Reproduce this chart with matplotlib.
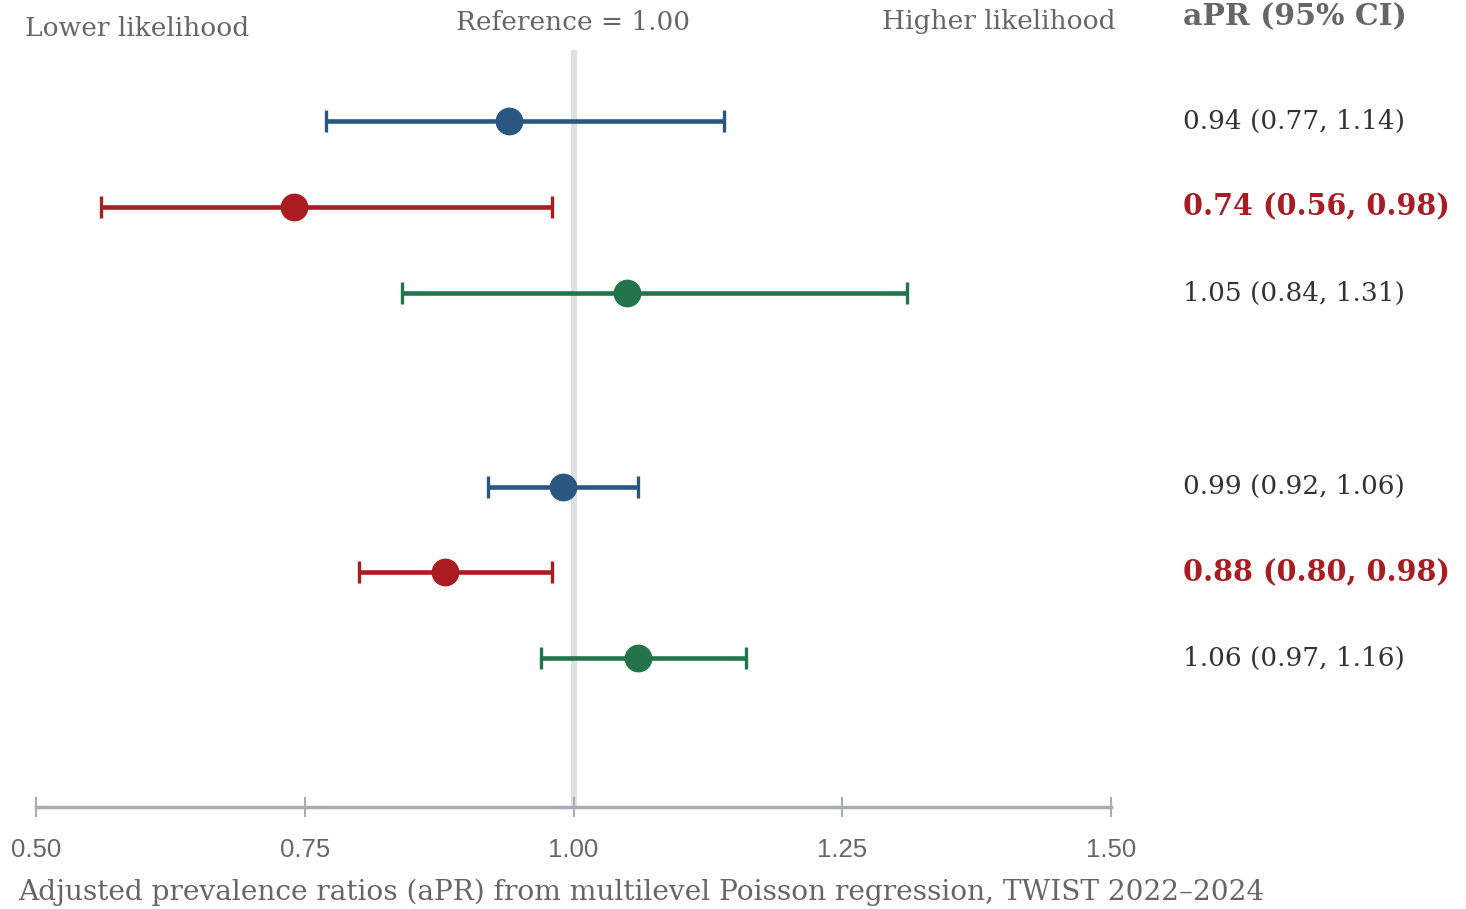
import numpy as np
import matplotlib
matplotlib.use("Agg")
import matplotlib.pyplot as plt
import matplotlib.transforms as mtransforms

# estimates and 95% CIs, two groups of three
estimates = [0.94, 0.74, 1.05, 0.99, 0.88, 1.06]
lower = [0.77, 0.56, 0.84, 0.92, 0.80, 0.97]
upper = [1.14, 0.98, 1.31, 1.06, 0.98, 1.16]
significant = [False, True, False, False, True, False]
series_colors = ["#2a5781", "#a81c22", "#23744a"]
xticks = [0.50, 0.75, 1.00, 1.25, 1.50]

GRAY = "#666666"
AXIS_GRAY = "#a8adb3"
SERIF = ["DejaVu Serif"]

W, H = 1466, 909
fig = plt.figure(figsize=(W / 100, H / 100), dpi=100)
ax = fig.add_axes([36 / W, 1 - 807 / H, (1111 - 36) / W, (807 - 50) / H])

gap = 1.25
ypos = [g * (3 + gap) + i for g in range(2) for i in range(3)]

ax.axvline(1.0, color="#dde1e6", lw=4.5, zorder=0)

for k, (y, est, lo, hi) in enumerate(zip(ypos, estimates, lower, upper)):
    c = series_colors[k % 3]
    ax.errorbar(est, y, xerr=[[est - lo], [hi - est]], fmt="o", color=c,
                ms=19, elinewidth=3.3, capsize=8, capthick=2.4, zorder=3)

ax.set_xlim(0.5, 1.5)
ax.set_ylim(7.977, -0.826)
ax.set_yticks([])
for s in ("top", "right", "left"):
    ax.spines[s].set_visible(False)
ax.spines["bottom"].set_color(AXIS_GRAY)
ax.spines["bottom"].set_linewidth(2.5)
ax.set_xticks(xticks)
ax.set_xticklabels([f"{t:.2f}" for t in xticks], family="Liberation Sans",
                   fontsize=18.5, color=GRAY)
ax.tick_params(axis="x", direction="inout", length=15, width=1.5,
               color=AXIS_GRAY, pad=15)

# right-hand column of aPR (95% CI)
tr = mtransforms.blended_transform_factory(fig.transFigure, ax.transData)
for y, est, lo, hi, sig in zip(ypos, estimates, lower, upper, significant):
    label = f"{est:.2f} ({lo:.2f}, {hi:.2f})"
    ax.text(1183 / W, y, label, transform=tr, ha="left", va="center",
            family=SERIF, fontsize=20.6 if sig else 19,
            color="#a81c22" if sig else "#333333",
            fontweight="bold" if sig else "normal")

fig.text(1183 / W, 1 - 17 / H, "aPR (95% CI)", ha="left", va="center",
         family=SERIF, fontsize=21.5, fontweight="bold", color=GRAY)
fig.text(25 / W, 1 - 29 / H, "Lower likelihood", ha="left", va="center",
         family=SERIF, fontsize=19, color=GRAY)
fig.text(573 / W, 1 - 22 / H, "Reference = 1.00", ha="center", va="center",
         family=SERIF, fontsize=19, color=GRAY)
fig.text(1115 / W, 1 - 22 / H, "Higher likelihood", ha="right", va="center",
         family=SERIF, fontsize=19, color=GRAY)
fig.text(18 / W, 1 - 892 / H,
         "Adjusted prevalence ratios (aPR) from multilevel Poisson regression, TWIST 2022\u20132024",
         ha="left", va="center", family=SERIF, fontsize=20.2, color=GRAY)

fig.savefig("out.png", dpi=100)
